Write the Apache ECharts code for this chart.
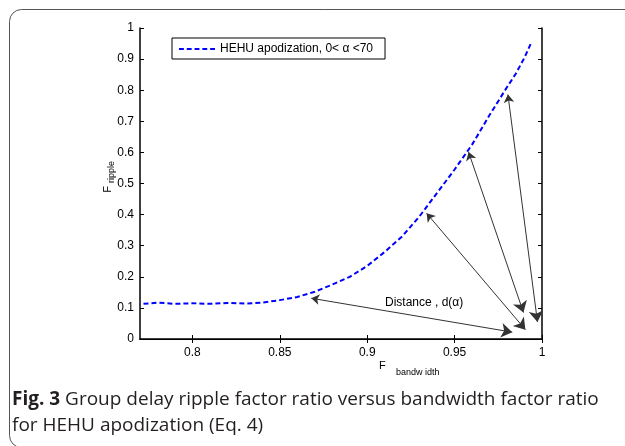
<!DOCTYPE html>
<html>
<head>
<meta charset="utf-8">
<script src="https://cdn.jsdelivr.net/npm/echarts@6/dist/echarts.min.js"></script>
<style>
  html, body { margin: 0; padding: 0; background: #fff; }
  #chart { width: 625px; height: 446px; }
</style>
</head>
<body>
<div id="chart"></div>
<script>
// F_bandwidth vs F_ripple
var bandwidth = [0.772, 0.78, 0.79, 0.80, 0.81, 0.82, 0.83, 0.84, 0.85, 0.86, 0.87, 0.88, 0.89, 0.90,
                 0.91, 0.92, 0.93, 0.94, 0.95, 0.96, 0.97, 0.98, 0.985, 0.99, 0.994];
var ripple = [0.113, 0.117, 0.113, 0.115, 0.113, 0.116, 0.114, 0.117, 0.125, 0.135, 0.152, 0.175, 0.2, 0.235,
              0.28, 0.33, 0.395, 0.47, 0.545, 0.625, 0.72, 0.81, 0.853, 0.905, 0.955];
var xTicks = [0.8, 0.85, 0.9, 0.95, 1];
var seriesName = 'HEHU apodization, 0< \u03b1 <70';

// double-headed annotation arrows [start, end] in data units
var arrowFrom = [[0.868, 0.131], [0.934, 0.404], [0.958, 0.601], [0.9805, 0.786]];
var arrowTo   = [[0.983, 0.022], [0.9905, 0.030], [0.9894, 0.085], [0.9974, 0.055]];
var distanceLabel = 'Distance , d(\u03b1)';

var curve = bandwidth.map(function (x, i) { return [x, ripple[i]]; });
var arrows = arrowFrom.map(function (p, i) { return { coords: [p, arrowTo[i]] }; });

var font = 'Liberation Sans, Arial, sans-serif';
// five short dashes, like the matlab legend sample
var dashIcon = 'path://M0,0h5v2h-5z M8,0h5v2h-5z M16,0h5v2h-5z M24,0h5v2h-5z M32,0h5v2h-5z';

var myChart = echarts.init(document.getElementById('chart'));
var option = {
    backgroundColor: '#fff',
    animation: false,
    textStyle: { fontFamily: font },
    grid: { left: 140, right: 83, top: 28, bottom: 107 },
    legend: {
        left: 172, top: 38,
        data: [{ name: seriesName, icon: dashIcon }],
        itemWidth: 36, itemHeight: 2, itemGap: 0,
        borderColor: '#000', borderWidth: 1, padding: [5, 12, 4, 7],
        textStyle: { fontSize: 12, color: '#000', fontFamily: font }
    },
    xAxis: [
        {
            type: 'value', min: 0.77, max: 1,
            axisLine: { lineStyle: { color: '#000', width: 1.5 } },
            axisTick: { inside: true, length: 4, customValues: xTicks, lineStyle: { color: '#000' } },
            axisLabel: { customValues: xTicks, color: '#000', fontSize: 12, margin: 8 },
            splitLine: { show: false }
        },
        {
            type: 'value', min: 0.77, max: 1, position: 'top',
            axisLine: { lineStyle: { color: '#000', width: 1 } },
            axisTick: { inside: true, length: 4, customValues: xTicks, lineStyle: { color: '#000' } },
            axisLabel: { show: false },
            splitLine: { show: false }
        }
    ],
    yAxis: [
        {
            type: 'value', min: 0, max: 1, interval: 0.1,
            axisLine: { show: true, lineStyle: { color: '#000', width: 1.5 } },
            axisTick: { show: true, inside: true, length: 4, lineStyle: { color: '#000' } },
            axisLabel: { color: '#000', fontSize: 12, margin: 6 },
            splitLine: { show: false }
        },
        {
            type: 'value', min: 0, max: 1, interval: 0.1, position: 'right',
            axisLine: { show: true, lineStyle: { color: '#000', width: 1.5 } },
            axisTick: { show: true, inside: true, length: 4, lineStyle: { color: '#000' } },
            axisLabel: { show: false },
            splitLine: { show: false }
        }
    ],
    series: [
        {
            name: seriesName,
            type: 'line',
            data: curve,
            symbol: 'none',
            lineStyle: { color: '#0000ff', width: 2, type: [5, 3] },
            itemStyle: { color: '#0000ff' }
        },
        {
            type: 'lines',
            coordinateSystem: 'cartesian2d',
            symbol: ['arrow', 'arrow'],
            symbolSize: [8, 11],
            lineStyle: { color: '#333', width: 1, opacity: 1, curveness: 0 },
            itemStyle: { color: '#000' },
            data: arrows,
            z: 3
        }
    ],
    graphic: [
        {
            type: 'rect', left: 7, top: 7, silent: true,
            shape: { width: 640, height: 438, r: 12 },
            style: { fill: 'none', stroke: '#555', lineWidth: 1 }
        },
        {
            type: 'text', left: 385, top: 297,
            style: { text: distanceLabel, fontSize: 12, fill: '#000', fontFamily: font }
        },
        {
            type: 'text', left: 379, top: 360,
            style: { text: 'F', fontSize: 11, fill: '#000', fontFamily: font }
        },
        {
            type: 'text', left: 396, top: 368,
            style: { text: 'bandw idth', fontSize: 9, fill: '#000', fontFamily: font }
        },
        {
            type: 'text', left: 102, top: 186, rotation: Math.PI / 2,
            style: { text: 'F', fontSize: 11, fill: '#000', fontFamily: font }
        },
        {
            type: 'text', left: 107, top: 161, rotation: Math.PI / 2,
            style: { text: 'ripple', fontSize: 9, fill: '#000', fontFamily: font }
        },
        {
            type: 'text', left: 12, top: 387,
            style: {
                text: '{b|Fig. 3} Group delay ripple factor ratio versus bandwidth factor ratio\nfor HEHU apodization (Eq. 4)',
                fontSize: 19, lineHeight: 26, fill: '#231f20', fontFamily: 'Open Sans, sans-serif',
                rich: { b: { fontWeight: 'bold', fontSize: 19, fill: '#231f20', fontFamily: 'Open Sans, sans-serif' } }
            }
        }
    ]
};
myChart.setOption(option);
window.addEventListener('resize', function () { myChart.resize(); });
</script>
</body>
</html>
